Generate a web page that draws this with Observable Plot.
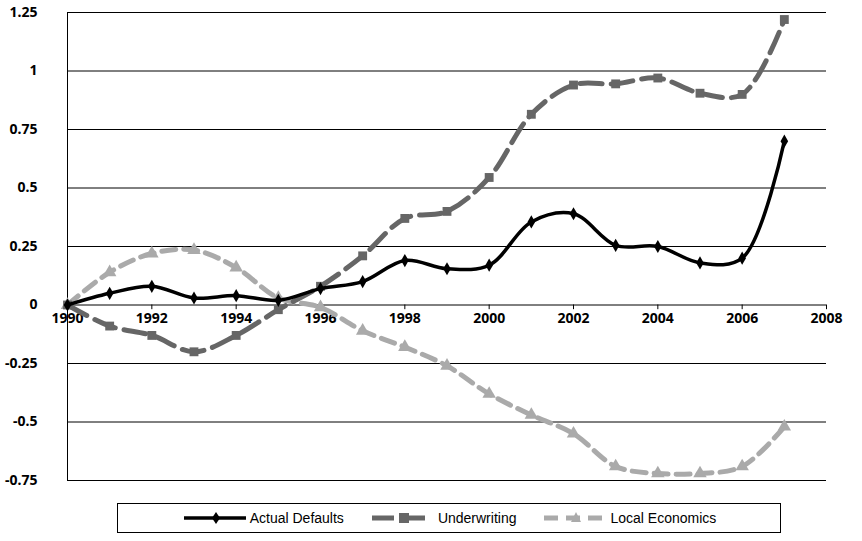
<!DOCTYPE html>
<html><head><meta charset="utf-8">
<script src="https://cdn.jsdelivr.net/npm/d3@7"></script>
<script src="https://cdn.jsdelivr.net/npm/@observablehq/plot@0.6"></script>
<style>
body{margin:0;background:#fff;font-family:"Liberation Sans",Arial,sans-serif;}
#legend{position:absolute;left:117px;top:503px;width:664px;height:30px;border:1px solid #000;box-sizing:border-box;display:flex;justify-content:center;align-items:center;gap:26px;font-size:14px;}
#legend span{display:flex;align-items:center;gap:2px}
</style></head><body>
<div id="chart"></div>
<div id="legend"></div>
<script>
const years = d3.range(1990, 2008);
const actualDefaults = [0,0.05,0.08,0.03,0.04,0.02,0.07,0.10,0.19,0.155,0.17,0.355,0.39,0.255,0.25,0.18,0.20,0.70];
const underwriting = [0,-0.09,-0.13,-0.2,-0.13,-0.02,0.08,0.21,0.37,0.40,0.545,0.815,0.94,0.945,0.97,0.905,0.90,1.22];
const localEconomics = [0,0.14,0.22,0.235,0.16,0.03,-0.01,-0.11,-0.18,-0.26,-0.38,-0.47,-0.55,-0.69,-0.72,-0.72,-0.69,-0.52];
const yTicks = [1.25,1,0.75,0.5,0.25,0,-0.25,-0.5,-0.75];
const yTickLabels = ["1.25","1","0.75","0.5","0.25","0","-0.25","-0.5","-0.75"];
const xTicks = d3.range(1990, 2009, 2);

const series = [
  {name:"Actual Defaults", vals:actualDefaults, color:"#000", dash:null, sym:"diamond", w:3.5, r:4},
  {name:"Underwriting", vals:underwriting, color:"#666", dash:"22,9", sym:"square", w:5, r:5},
  {name:"Local Economics", vals:localEconomics, color:"#aaa", dash:"14,8", sym:"triangle", w:5, r:5}
];
const marks = [
  Plot.ruleY(yTicks, {stroke:"#000", strokeWidth:1}),
  Plot.ruleX([1990], {stroke:"#000"}),
  Plot.text(yTicks, {x:1990, y:d=>d, text:(d,i)=>yTickLabels[i], textAnchor:"end", dx:-30, fontSize:14, fontWeight:"bold", fill:"#000"}),
  Plot.ruleX(xTicks, {x:d=>d, y1:0, y2:-0.02, stroke:"#000"}),
  Plot.text(xTicks, {x:d=>d, y:0, text:d=>String(d), dy:14, fontSize:14, fontWeight:"bold", fill:"#000"})
];
for (const s of series.slice().reverse()) {
  const data = years.map((y,i)=>({year:y, v:s.vals[i]}));
  marks.push(Plot.line(data, {x:"year", y:"v", stroke:s.color, strokeWidth:s.w, strokeDasharray:s.dash, curve:"catmull-rom"}));
  marks.push(Plot.dot(data, {x:"year", y:"v", symbol:()=>s.sym, fill:s.color, r:s.r}));
}
const chart = Plot.plot({
  width:862, height:492, marginLeft:67, marginRight:36, marginTop:12, marginBottom:12,
  x:{type:"linear", domain:[1990,2008], axis:null},
  y:{type:"linear", domain:[-0.75,1.25], axis:null},
  symbol:{type:"identity"},
  style:{background:"#fff"},
  marks
});
document.getElementById("chart").appendChild(chart);
const lg = document.getElementById("legend");
for (const s of series) {
  const sp = document.createElement("span");
  const sym = s.sym==="diamond" ? `<path d="M34,3 L38,9 L34,15 L30,9Z" fill="${s.color}"/>` :
    s.sym==="square" ? `<rect x="29" y="4" width="10" height="10" fill="${s.color}"/>` :
    `<path d="M34,3 L39,13 L29,13Z" fill="${s.color}"/>`;
  sp.innerHTML = `<svg width="66" height="18"><line x1="2" y1="9" x2="64" y2="9" stroke="${s.color}" stroke-width="${s.w}" ${s.dash?`stroke-dasharray="${s.dash}"`:""}/>${sym}</svg>${s.name}`;
  lg.appendChild(sp);
}
</script></body></html>
